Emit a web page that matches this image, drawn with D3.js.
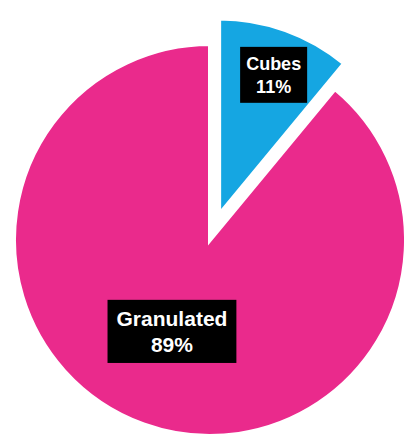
<!DOCTYPE html>
<html>
<head>
<meta charset="utf-8">
<script src="https://cdn.jsdelivr.net/npm/d3@7"></script>
<style>
  html, body { margin: 0; padding: 0; background: #fff; }
  svg { display: block; }
  .lbl { font-family: "Liberation Sans", Arial, sans-serif; font-weight: bold; fill: #fff; }
</style>
</head>
<body>
<div id="chart"></div>
<script>
// data
const categories = ["Cubes", "Granulated"];
const shares = [11, 89];
const colors = ["#15a6e2", "#ea2a8c"];

const width = 404, height = 437;
const cx = 210, cy = 240, radius = 196;

const svg = d3.select("#chart").append("svg")
  .attr("width", width)
  .attr("height", height);

const g = svg.append("g").attr("transform", `translate(${cx},${cy})`);

const pie = d3.pie().sort(null).value(d => d.value);
const arcs = pie(categories.map((c, i) => ({ name: c, value: shares[i] })));

const arc = d3.arc().innerRadius(0).outerRadius(radius);

// the small slice is pulled out of the pie
const explode = [27, 0];
// label spot: distance from the slice tip and an angle tweak (degrees)
const labelDist = [150, 99];
const labelTurn = [1.5, 2.8];
const fontSize = [18, 21];
const lineGap = [23, 26];
const padX = [6, 9];
const padY = [8, 9];

function offset(d, r, turn) {
  const a = (d.startAngle + d.endAngle) / 2 + (turn || 0) * Math.PI / 180;
  return [Math.sin(a) * r, -Math.cos(a) * r];
}

const slices = g.selectAll(".slice")
  .data(arcs)
  .enter()
  .append("g")
  .attr("class", "slice")
  .attr("transform", (d, i) => {
    const o = offset(d, explode[i]);
    return `translate(${o[0]},${o[1]})`;
  });

// draw big slice first so the stroke of the small one sits on top
slices.sort((a, b) => b.value - a.value);

slices.append("path")
  .attr("d", arc)
  .attr("fill", d => colors[d.index])
  .attr("stroke", "#fff")
  .attr("stroke-width", 4)
  .attr("stroke-linejoin", "miter");

slices.each(function (d) {
  const i = d.index;
  const p = offset(d, labelDist[i], labelTurn[i]);
  const lab = d3.select(this).append("g")
    .attr("transform", `translate(${p[0]},${p[1]})`);

  const txt = lab.append("text")
    .attr("class", "lbl")
    .attr("text-anchor", "middle")
    .style("font-size", fontSize[i] + "px");

  const lines = [d.data.name, d.data.value + "%"];
  const cap = fontSize[i] * 0.72;
  const total = cap + lineGap[i];
  lines.forEach((t, k) => {
    txt.append("tspan")
      .attr("x", 0)
      .attr("y", -total / 2 + cap + k * lineGap[i])
      .text(t);
  });

  const bb = txt.node().getBBox();
  lab.insert("rect", "text")
    .attr("x", bb.x - padX[i])
    .attr("y", -total / 2 - padY[i] - 2)
    .attr("width", bb.width + padX[i] * 2)
    .attr("height", total + padY[i] * 2 + 4)
    .attr("fill", "#000");
});
</script>
</body>
</html>
